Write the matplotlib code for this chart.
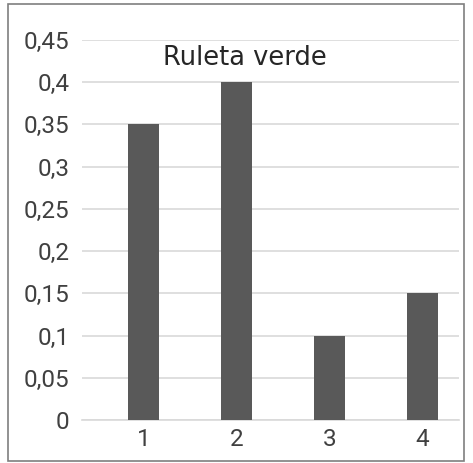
import matplotlib
matplotlib.use("Agg")
import matplotlib.pyplot as plt
from matplotlib.patches import Rectangle

# --- data ---
categories = ["1", "2", "3", "4"]
values = [0.35, 0.40, 0.10, 0.15]
yticks = [0, 0.05, 0.1, 0.15, 0.2, 0.25, 0.3, 0.35, 0.4, 0.45]
ytick_labels = ["0", "0,05", "0,1", "0,15", "0,2", "0,25", "0,3", "0,35", "0,4", "0,45"]
title = "Ruleta verde"

W, H = 473, 463
fig = plt.figure(figsize=(W / 100, H / 100), dpi=100)
ax = fig.add_axes([82 / W, 43 / H, (459 - 82) / W, (420 - 40) / H])

x = list(range(1, len(categories) + 1))
ax.bar(x, values, width=0.333, color="#595959", zorder=3)

# the original plot area is not centred on the bars (wider gap on the left)
ax.set_xlim(0.339, 4.392)
ax.set_ylim(0, 0.45)
ax.set_yticks(yticks)
ax.set_yticklabels(ytick_labels)
ax.set_xticks(x)
ax.set_xticklabels(categories)

# narrow DIN-like tick font in the original; Roboto is the closest installed
for lbl in ax.get_yticklabels() + ax.get_xticklabels():
    lbl.set_family("Roboto")
    lbl.set_fontweight("normal")
    lbl.set_fontsize(17.5)
    lbl.set_color("#404040")

ax.tick_params(axis="both", length=0)
ax.tick_params(axis="y", pad=9)
ax.tick_params(axis="x", pad=6)
ax.grid(axis="y", color="#d9d9d9", linewidth=1.2, zorder=0)
for side in ["top", "right", "left"]:
    ax.spines[side].set_visible(False)
ax.spines["bottom"].set_color("#d9d9d9")
ax.spines["bottom"].set_linewidth(1.2)

ax.text(2.086, 0.429, title, ha="center", va="center", fontsize=18.5,
        family="DejaVu Sans", color="#262626")

# outer frame of the chart
fig.patches.append(Rectangle((8 / W, 2 / H), (464 - 8) / W, (459 - 2) / H,
                             transform=fig.transFigure, fill=False,
                             edgecolor="#7f7f7f", linewidth=1.2))

fig.savefig("out.png", dpi=100)
